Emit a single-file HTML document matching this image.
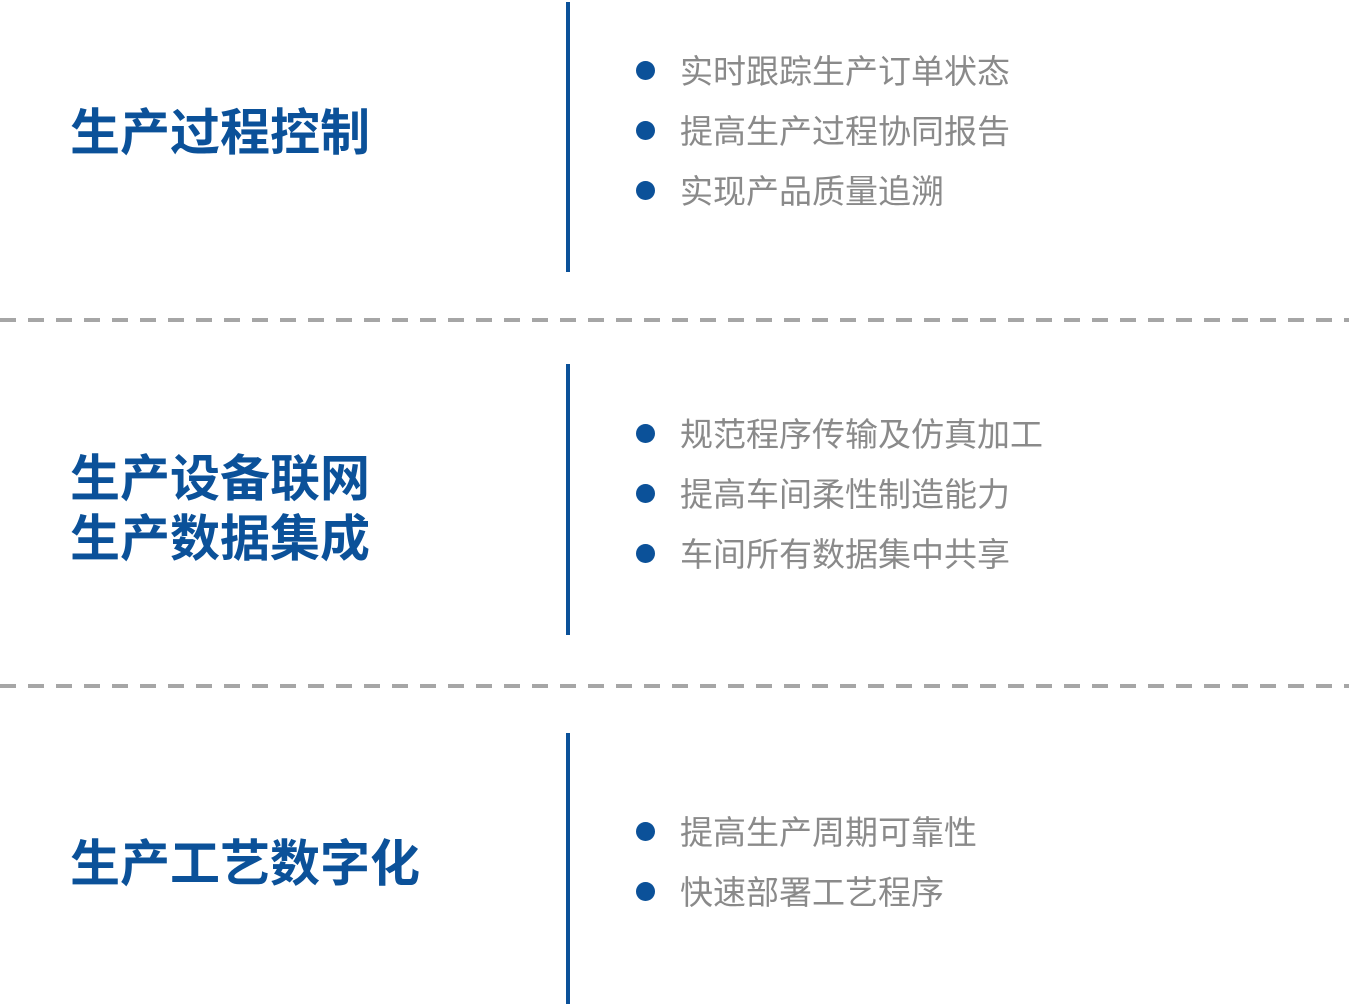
<!DOCTYPE html>
<html><head><meta charset="utf-8"><style>
body{margin:0;width:1349px;height:1006px;background:#fff;position:relative;overflow:hidden;font-family:"Liberation Sans","Noto Sans CJK SC",sans-serif}
.h{position:absolute;left:70px;font-size:50px;line-height:60px;font-weight:bold;color:#0b5199;white-space:nowrap}
.v{position:absolute;left:566px;width:4px;background:#0b5199}
.d{position:absolute;left:0;width:1349px;height:4px;background:repeating-linear-gradient(90deg,#a6a6a6 0 16px,transparent 16px 28px)}
.b{position:absolute;left:636px;width:19px;height:19px;border-radius:50%;background:#0b5199}
.t{position:absolute;left:680px;font-size:33px;line-height:40px;color:#8a8a8a;white-space:nowrap}
</style></head><body>
<div class="h" style="top:103px">生产过程控制</div>
<div class="h" style="top:449px">生产设备联网<br>生产数据集成</div>
<div class="h" style="top:834px">生产工艺数字化</div>
<div class="v" style="top:2px;height:270px"></div>
<div class="v" style="top:364px;height:271px"></div>
<div class="v" style="top:733px;height:271px"></div>
<div class="d" style="top:318px"></div>
<div class="d" style="top:684px"></div>
<div class="b" style="top:61px"></div><div class="t" style="top:52px">实时跟踪生产订单状态</div>
<div class="b" style="top:121px"></div><div class="t" style="top:112px">提高生产过程协同报告</div>
<div class="b" style="top:181px"></div><div class="t" style="top:172px">实现产品质量追溯</div>
<div class="b" style="top:424px"></div><div class="t" style="top:415px">规范程序传输及仿真加工</div>
<div class="b" style="top:484px"></div><div class="t" style="top:475px">提高车间柔性制造能力</div>
<div class="b" style="top:544px"></div><div class="t" style="top:535px">车间所有数据集中共享</div>
<div class="b" style="top:822px"></div><div class="t" style="top:813px">提高生产周期可靠性</div>
<div class="b" style="top:882px"></div><div class="t" style="top:873px">快速部署工艺程序</div>
</body></html>
